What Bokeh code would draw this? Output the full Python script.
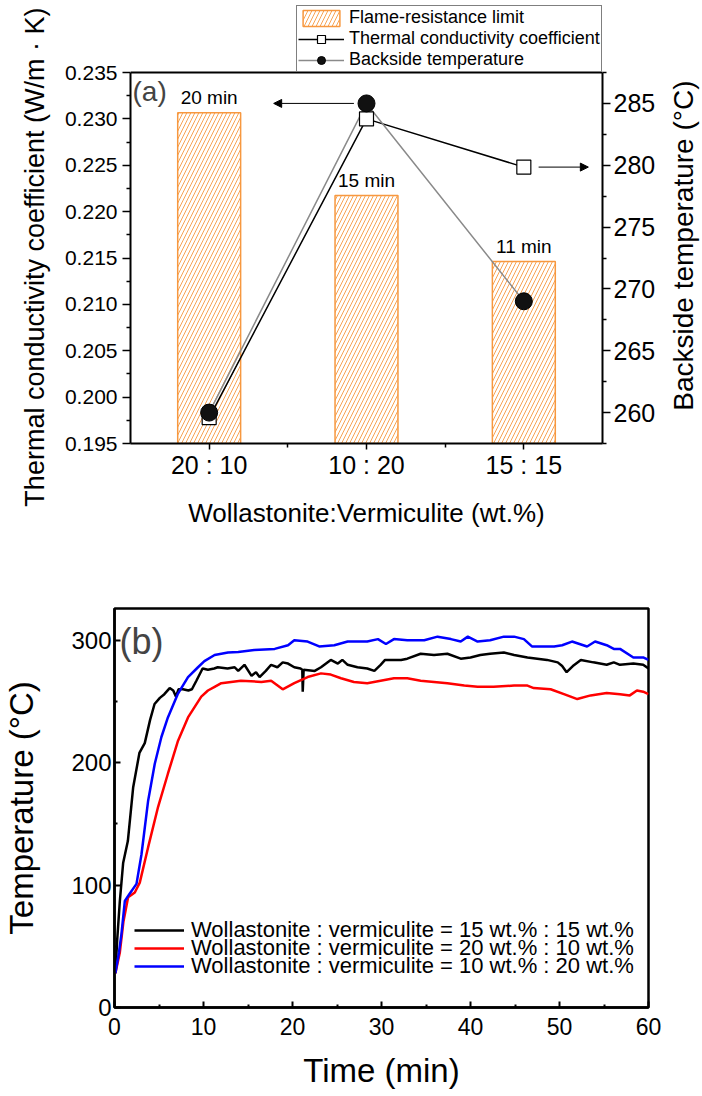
from bokeh.plotting import figure
from bokeh.models import (Range1d, LinearAxis, FixedTicker, PrintfTickFormatter, Legend,
                          LegendItem, Arrow, NormalHead, Label, Span, Title)
from bokeh.layouts import row
from bokeh.embed import file_html
from bokeh.resources import INLINE
from bokeh.core.properties import value

FONT = "Liberation Sans"

# ---------------- data: panel (a) ----------------
ratios = ["20 : 10", "10 : 20", "15 : 15"]
flame_limit_min = [20, 15, 11]
thermal_cond = [0.1978, 0.2300, 0.2248]
backside_temp = [260, 285, 269]
left_ticks = [0.195, 0.200, 0.205, 0.210, 0.215, 0.220, 0.225, 0.230, 0.235]
right_ticks = [260, 265, 270, 275, 280, 285]
right_lim = (257.5, 287.5)
minutes_lim = (0, 22.43)

# ---------------- data: panel (b) ----------------
t_1515 = [0.1, 0.3, 0.6, 0.97, 1.5, 2.1, 2.8, 3.4, 4.0, 4.5, 5.1, 5.6, 6.2, 6.6, 6.9, 7.2, 7.7, 8.3,
          8.7, 9.2, 9.9, 10.5, 11.2, 11.6, 12.7, 13.5, 13.9, 14.6, 15.4, 15.9, 16.3, 17.0, 17.6, 18.3,
          18.9, 19.5, 20.2, 20.9, 21.1, 21.15, 21.25, 22.5, 23.2, 24.3, 25.1, 25.6, 26.2, 27.3, 28.4,
          29.2, 29.9, 30.4, 31.0, 32.2, 32.9, 34.4, 35.9, 37.4, 38.9, 40.0, 41.1, 42.2, 43.75, 44.9,
          46.4, 48.6, 49.8, 50.3, 50.8, 51.5, 52.4, 53.8, 55.3, 56.1, 56.8, 58.3, 59.4, 60.0]
T_1515 = [28, 55, 87, 118, 136, 180, 208, 216, 235, 248, 253, 256, 261, 259, 254, 260, 260, 259,
          260, 267, 277, 276, 277, 278, 277, 278, 275, 280, 271, 274, 270, 275, 280, 278,
          282, 281, 278, 277, 276, 258, 276, 275, 278, 284, 281, 284, 280, 278, 277,
          275, 280, 284, 284, 284, 285, 289, 288, 289, 285, 286, 288, 289, 290, 288,
          286, 284, 282, 279, 274, 279, 284, 282, 280, 282, 280, 281, 280, 277]

t_2010 = [0.1, 0.6, 1.0, 1.53, 2.28, 2.84, 3.78, 4.9, 6.0, 7.14, 8.26, 9.75, 10.5, 11.25, 12.0, 14.2,
          16.5, 17.6, 18.9, 20.2, 21.7, 23.2, 24.3, 25.45, 26.9, 28.4, 29.9, 31.4, 32.9, 34.4, 35.9,
          37.4, 39.3, 40.8, 42.6, 44.9, 46.4, 47.1, 49.0, 50.5, 52.0, 53.5, 55.3, 56.8, 57.9, 58.7,
          59.4, 60.0]
T_2010 = [28, 45, 70, 90, 94, 102, 131, 164, 191, 218, 237, 254, 259, 262, 265, 267,
          266, 267, 260, 265, 270, 273, 272, 269, 266, 265, 267, 269, 269, 267, 266,
          265, 263, 262, 262, 263, 263, 261, 260, 256, 252, 255, 257, 256, 255, 259,
          258, 256]

t_1020 = [0.1, 0.5, 0.78, 1.16, 1.7, 2.47, 3.03, 3.78, 4.52, 5.27, 6.0, 7.1, 8.26, 9.38, 10.1, 11.25,
          12.75, 13.9, 15.7, 18.0, 19.5, 20.2, 21.7, 23.0, 24.7, 26.2, 28.4, 29.6, 30.5, 31.4, 32.9,
          34.8, 36.3, 37.8, 38.9, 39.7, 40.8, 42.2, 43.75, 44.9, 46.0, 46.9, 49.4, 50.3, 51.4, 53.1,
          54.0, 55.3, 56.1, 56.8, 58.3, 59.4, 60.0]
T_1020 = [28, 45, 60, 87, 93, 101, 125, 169, 199, 221, 237, 256, 270, 278, 283, 288,
          290, 290.5, 292, 293, 296, 300, 299, 295, 296, 299, 299, 301, 297, 301, 300,
          300, 303, 301, 299, 303, 299, 300, 303, 303, 301, 295, 295, 296, 299, 295,
          299, 296, 293, 293, 286, 286, 284]

series_labels = ["Wollastonite : vermiculite = 15 wt.% : 15 wt.%",
                 "Wollastonite : vermiculite = 20 wt.% : 10 wt.%",
                 "Wollastonite : vermiculite = 10 wt.% : 20 wt.%"]
b_yticks = [0, 100, 200, 300]
b_xticks = [0, 10, 20, 30, 40, 50, 60]

ORANGE = "#F7983F"
W = 700
W1 = 665
H1 = 565
H2 = 1096 - H1

# panel (a) frame: data box from y=72 to y=443; drawing area extends up to y=0 for the legend
A_TOP, A_BOX_TOP, A_BOTTOM = 0, 72, 443
ext = (A_BOX_TOP - A_TOP) / (A_BOTTOM - A_BOX_TOP)


def extend(lo, hi):
    return Range1d(lo, hi + (hi - lo) * ext)


# ================= panel (a) =================
xpos = [i + 0.5 for i in range(len(ratios))]
p1 = figure(width=W1, height=H1, x_range=Range1d(0, len(ratios)),
            y_range=extend(left_ticks[0], left_ticks[-1]),
            output_backend="svg", toolbar_location=None,
            min_border_left=130, min_border_right=W1 - 602, min_border_top=A_TOP,
            min_border_bottom=H1 - A_BOTTOM)
p1.extra_y_ranges = {"temp": extend(*right_lim), "minutes": extend(*minutes_lim)}
p1.grid.visible = False
p1.outline_line_color = None

bars = p1.vbar(x=xpos, top=flame_limit_min, bottom=0, width=0.4, y_range_name="minutes",
               fill_color="white", line_color=ORANGE, line_width=1.5,
               hatch_pattern="/", hatch_color=ORANGE, hatch_scale=8, hatch_weight=0.9)
p1.text(x=xpos, y=flame_limit_min, text=[f"{m} min" for m in flame_limit_min],
        y_range_name="minutes", text_align="center", text_baseline="alphabetic",
        y_offset=-15, text_font=value(FONT), text_font_size="19px", text_color="black")

tc_line = p1.line(xpos, thermal_cond, line_color="black", line_width=1.5)
bt_line = p1.line(xpos, backside_temp, line_color="#8a8a8a", line_width=1.5, y_range_name="temp")
tc_pts = p1.scatter(xpos, thermal_cond, marker="square", size=14, fill_color="white",
                    line_color="black", line_width=1.2)
bt_pts = p1.scatter(xpos, backside_temp, marker="circle", size=17, fill_color="#111111",
                    line_color="black", y_range_name="temp")

# top border of the data box
p1.add_layout(Span(location=left_ticks[-1], dimension="width", line_color="black", line_width=2))

# arrows pointing to the respective axes
p1.add_layout(Arrow(end=NormalHead(size=8, fill_color="black", line_color="black", line_width=1),
                    x_start=xpos[1] - 0.08, y_start=backside_temp[1],
                    x_end=xpos[0] + 0.41, y_end=backside_temp[1],
                    y_range_name="temp", line_width=1, line_color="black"))
p1.add_layout(Arrow(end=NormalHead(size=8, fill_color="black", line_color="black", line_width=1),
                    x_start=xpos[2] + 0.094, y_start=thermal_cond[2],
                    x_end=xpos[2] + 0.41, y_end=thermal_cond[2],
                    line_width=1, line_color="black"))

p1.add_layout(Label(x=0, y=left_ticks[-1], text="(a)", x_offset=2, y_offset=-3,
                    text_baseline="top", text_font=FONT, text_font_size="28px"))

# axes styling
xa = p1.xaxis[0]
xa.ticker = FixedTicker(ticks=xpos, minor_ticks=[1, 2])
xa.major_label_overrides = {xpos[i]: ratios[i] for i in range(len(ratios))}
xa.axis_label = "Wollastonite:Vermiculite (wt.%)"
ya = p1.yaxis[0]
ya.ticker = FixedTicker(ticks=left_ticks,
                        minor_ticks=[round(v + 0.0025, 4) for v in left_ticks[:-1]])
ya.formatter = PrintfTickFormatter(format="%.3f")
ya.bounds = (left_ticks[0], left_ticks[-1])
ra = LinearAxis(y_range_name="temp",
                ticker=FixedTicker(ticks=right_ticks,
                                   minor_ticks=[v - 2.5 for v in right_ticks] + [287.5]),
                bounds=right_lim)
p1.add_layout(ra, "right")

for ax, lab_size in ((xa, "25px"), (ya, "21px"), (ra, "25px")):
    ax.axis_line_width = 2
    ax.axis_line_color = "black"
    ax.major_tick_line_width = 1.5
    ax.minor_tick_line_width = 1.5
    ax.major_tick_in = 0
    ax.minor_tick_in = 0
    ax.major_label_text_font = FONT
    ax.major_label_text_font_size = lab_size
    ax.major_label_text_color = "black"
    ax.axis_label_text_font = FONT
    ax.axis_label_text_font_size = "26px"
    ax.axis_label_text_font_style = "normal"
    ax.axis_label_text_color = "black"
xa.major_tick_out = 6
xa.minor_tick_out = 4
xa.major_label_standoff = 1
xa.axis_label_standoff = 16
ya.major_tick_out = 8
ya.minor_tick_out = 4
ya.major_label_standoff = 5
ra.major_tick_out = 8
ra.minor_tick_out = 4
ra.major_label_standoff = 3

# left axis title, centred on the data box (not on the extended drawing area)
p1.add_layout(Title(text="Thermal conductivity coefficient (W/m · K)", align="right", offset=7,
                    standoff=23, text_font=FONT, text_font_size="27px",
                    text_font_style="normal", text_color="black"), "left")

leg1 = Legend(items=[LegendItem(label="Flame-resistance limit", renderers=[bars]),
                     LegendItem(label="Thermal conductivity coefficient", renderers=[tc_line, tc_pts]),
                     LegendItem(label="Backside temperature", renderers=[bt_line, bt_pts])],
              location=(166, A_BOTTOM - A_BOX_TOP), orientation="vertical",
              label_text_font=FONT, label_text_font_size="18px", label_text_color="black",
              label_height=20, glyph_height=20, glyph_width=46, label_standoff=5,
              spacing=0, padding=1, margin=0,
              border_line_color="black", border_line_width=1, background_fill_alpha=1)
p1.add_layout(leg1)

# right-hand title (reads bottom to top) in a narrow companion canvas
pr = figure(width=W - W1, height=H1, output_backend="svg", toolbar_location=None,
            x_axis_location=None, y_axis_location=None, min_border_left=0, min_border_right=0,
            min_border_top=A_TOP, min_border_bottom=H1 - A_BOTTOM)
pr.outline_line_color = None
pr.grid.visible = False
pr.add_layout(Title(text="Backside temperature (°C)", align="right", offset=80, standoff=0,
                    text_font=FONT, text_font_size="28px", text_font_style="normal",
                    text_color="black"), "left")

# ================= panel (b) =================
p2 = figure(width=W, height=H2, x_range=Range1d(0, 60), y_range=Range1d(0, 326),
            output_backend="svg", toolbar_location=None,
            min_border_left=113, min_border_right=W - 648, min_border_top=608 - H1,
            min_border_bottom=1096 - 1007)
p2.grid.visible = False
p2.outline_line_color = "black"
p2.outline_line_width = 2.5

r1 = p2.line(t_1515, T_1515, line_color="black", line_width=2.5)
r2 = p2.line(t_2010, T_2010, line_color="#ff0000", line_width=2.5)
r3 = p2.line(t_1020, T_1020, line_color="#0000ff", line_width=2.5)

bx = p2.xaxis[0]
bx.ticker = FixedTicker(ticks=b_xticks, minor_ticks=[v + 5 for v in b_xticks[:-1]])
bx.axis_label = "Time (min)"
by = p2.yaxis[0]
by.ticker = FixedTicker(ticks=b_yticks, minor_ticks=[v + 50 for v in b_yticks])
by.axis_label = "Temperature (°C)"
for ax, lab_size in ((bx, "23px"), (by, "24px")):
    ax.axis_line_width = 2.5
    ax.major_tick_in = 6
    ax.major_tick_out = 0
    ax.minor_tick_in = 3
    ax.minor_tick_out = 0
    ax.major_tick_line_width = 2
    ax.minor_tick_line_width = 2
    ax.major_label_text_font = FONT
    ax.major_label_text_font_size = lab_size
    ax.major_label_text_color = "black"
    ax.axis_label_text_font = FONT
    ax.axis_label_text_font_size = "33px"
    ax.axis_label_text_font_style = "normal"
    ax.axis_label_text_color = "black"
bx.major_label_standoff = 10
bx.axis_label_standoff = 14
by.major_label_standoff = 3
by.axis_label_standoff = 28

p2.add_layout(Label(x=0, y=326, text="(b)", x_offset=5, y_offset=-12,
                    text_baseline="top", text_font=FONT, text_font_size="36px"))

for r, lab, ybot in ((r1, series_labels[0], 64), (r2, series_labels[1], 46), (r3, series_labels[2], 28)):
    lg = Legend(items=[LegendItem(label=lab, renderers=[r])], location=(20, ybot),
                label_text_font=FONT, label_text_font_size="22px", label_text_color="black",
                label_height=18, glyph_height=18, glyph_width=50, label_standoff=7,
                spacing=0, padding=0, margin=0,
                border_line_color=None, background_fill_alpha=0)
    p2.add_layout(lg)

open("out.html", "w").write(file_html([row(p1, pr), p2], INLINE))
